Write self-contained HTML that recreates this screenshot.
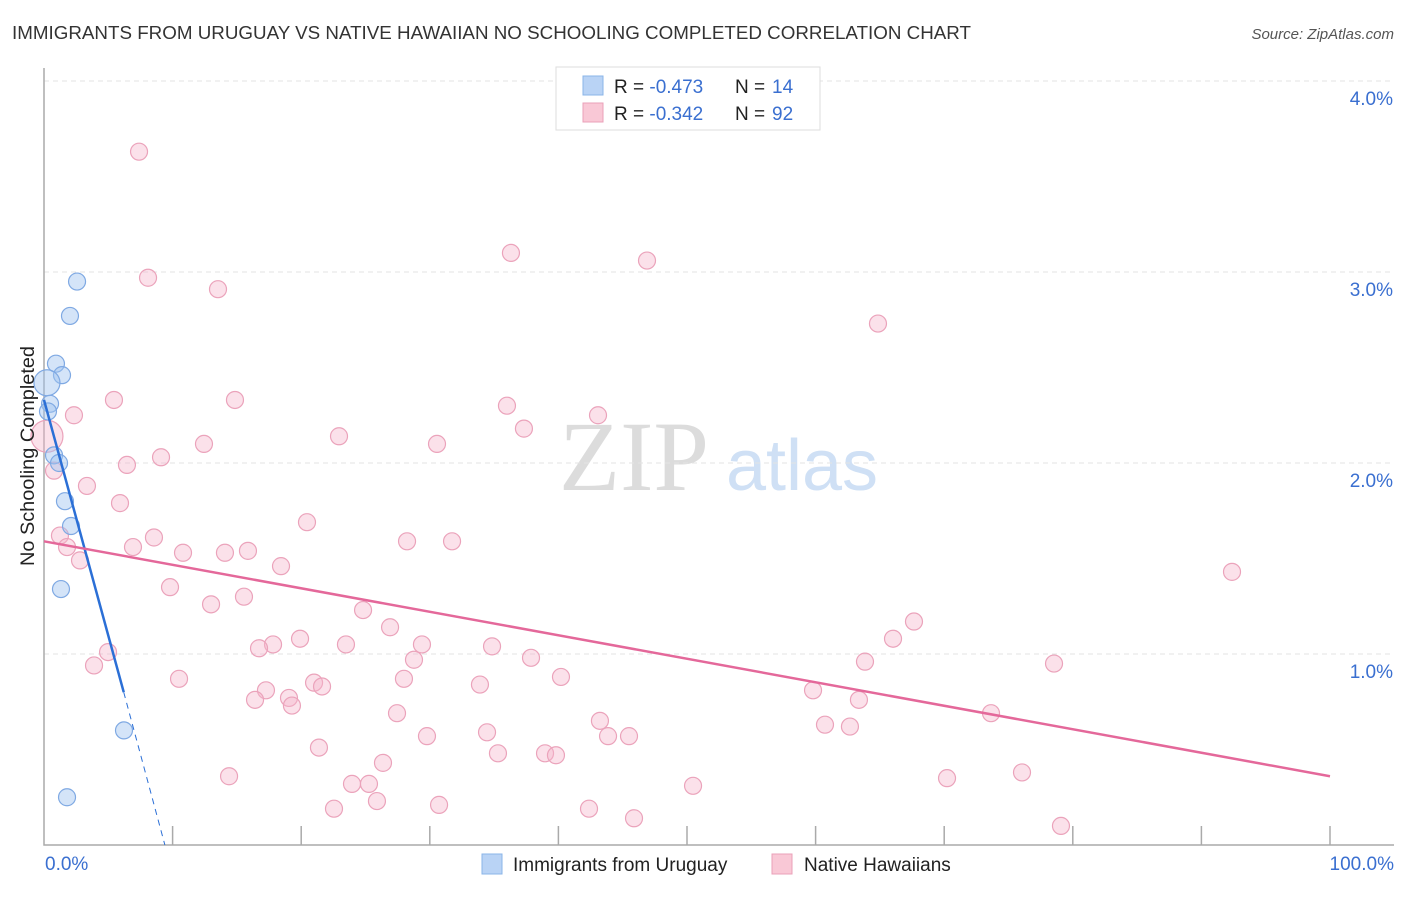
<!DOCTYPE html>
<html><head><meta charset="utf-8"><style>
body{margin:0;background:#fff;font-family:"Liberation Sans",sans-serif}
svg text{font-family:"Liberation Sans",sans-serif}
</style></head><body>
<svg id="chart" width="1406" height="892" xmlns="http://www.w3.org/2000/svg">
<text x="12" y="39" font-size="18" fill="#333" textLength="959" lengthAdjust="spacingAndGlyphs">IMMIGRANTS FROM URUGUAY VS NATIVE HAWAIIAN NO SCHOOLING COMPLETED CORRELATION CHART</text>
<text x="1394" y="39" font-size="15" fill="#555" text-anchor="end" font-style="italic">Source: ZipAtlas.com</text>
<g>
<text x="634" y="490" font-size="100" fill="#dcdcdc" text-anchor="middle" style="font-family:'Liberation Serif',serif">ZIP</text>
<text x="802" y="490" font-size="72" fill="#cfe0f5" text-anchor="middle">atlas</text>
</g>
<g id="grid"></g>
<g id="axes"></g>
<g id="pts"></g>
<g id="lines"></g>
<text transform="translate(34,456) rotate(-90)" font-size="19" fill="#222" text-anchor="middle" textLength="220" lengthAdjust="spacingAndGlyphs">No Schooling Completed</text>
<g>
<rect x="556" y="67" width="264" height="63" fill="#fff" stroke="#ddd"/>
<rect x="583" y="76" width="20" height="19" fill="#b9d3f5" stroke="#8ab4e8"/>
<rect x="583" y="103" width="20" height="19" fill="#f9c8d6" stroke="#eaa0b8"/>
<text x="614" y="93" font-size="19" fill="#222">R = <tspan fill="#3a6fd0">-0.473</tspan></text>
<text x="735" y="93" font-size="19" fill="#222">N = </text>
<text x="772" y="93" font-size="19" fill="#3a6fd0">14</text>
<text x="614" y="120" font-size="19" fill="#222">R = <tspan fill="#3a6fd0">-0.342</tspan></text>
<text x="735" y="120" font-size="19" fill="#222">N = </text>
<text x="772" y="120" font-size="19" fill="#3a6fd0">92</text>
</g>
<g>
<rect x="482" y="854" width="20" height="20" fill="#b9d3f5" stroke="#8ab4e8"/>
<text x="513" y="871" font-size="19" fill="#222">Immigrants from Uruguay</text>
<rect x="772" y="854" width="20" height="20" fill="#f9c8d6" stroke="#eaa0b8"/>
<text x="804" y="871" font-size="19" fill="#222">Native Hawaiians</text>
</g>
</svg>
<script>
const blueX=[2.57,2.02,0.93,1.40,0.23,0.47,0.31,0.78,1.17,1.63,2.10,1.32,6.22,1.79];
const blueY=[2.95,2.77,2.52,2.46,2.42,2.31,2.27,2.04,2.00,1.80,1.67,1.34,0.60,0.25];
const pinkX=[7.39,8.09,13.53,36.31,46.89,64.85,5.44,14.85,36.00,43.08,2.33,37.32,12.44,22.94,30.56,0.23,9.10,6.45,0.78,3.34,5.91,20.45,1.24,8.55,1.79,6.92,2.80,10.81,14.07,15.86,28.23,31.73,18.43,92.38,9.80,12.99,15.55,24.81,26.91,67.65,66.02,19.91,17.81,16.72,23.48,29.39,34.84,4.98,3.89,28.77,37.87,63.84,78.54,10.50,27.99,40.20,17.26,21.00,21.62,33.90,19.05,16.41,19.28,59.80,63.37,27.45,73.64,43.23,60.73,62.67,34.45,29.78,43.86,45.49,21.38,35.30,38.96,39.81,26.36,14.39,70.22,76.05,23.95,25.27,50.47,25.89,30.72,42.38,22.55,45.88,79.08];
const pinkY=[3.63,2.97,2.91,3.10,3.06,2.73,2.33,2.33,2.30,2.25,2.25,2.18,2.10,2.14,2.10,2.14,2.03,1.99,1.96,1.88,1.79,1.69,1.62,1.61,1.56,1.56,1.49,1.53,1.53,1.54,1.59,1.59,1.46,1.43,1.35,1.26,1.30,1.23,1.14,1.17,1.08,1.08,1.05,1.03,1.05,1.05,1.04,1.01,0.94,0.97,0.98,0.96,0.95,0.87,0.87,0.88,0.81,0.85,0.83,0.84,0.77,0.76,0.73,0.81,0.76,0.69,0.69,0.65,0.63,0.62,0.59,0.57,0.57,0.57,0.51,0.48,0.48,0.47,0.43,0.36,0.35,0.38,0.32,0.32,0.31,0.23,0.21,0.19,0.19,0.14,0.10];
const yTicks=[1,2,3,4];
const yTickLabels=["1.0%","2.0%","3.0%","4.0%"];
const blueTrend=[[0,2.33],[6.2,0.80],[9.4,0]];
const pinkTrend=[[0,1.59],[100,0.36]];
const NS="http://www.w3.org/2000/svg";
const sx=v=>44+v*12.86, sy=v=>845-v*191;
function mk(p,t,a){const e=document.createElementNS(NS,t);for(const k in a)e.setAttribute(k,a[k]);document.getElementById(p).appendChild(e);return e;}
yTicks.forEach((t,i)=>{
 const g=mk('grid','line',{x1:44,x2:1394,y1:sy(t),y2:sy(t),stroke:'#e3e3e3','stroke-dasharray':'5,4'});
 
 
 const l=mk('grid','text',{x:1393,y:sy(t)+24,'font-size':19,fill:'#3a6fd0','text-anchor':'end'});
 l.textContent=yTickLabels[i];
 
 
});
const ax=mk('axes','path',{d:'M44,68 V845 H1394',fill:'none',stroke:'#aaa','stroke-width':1.5});


for(let i=1;i<=10;i++){const t=mk('axes','line',{x1:sx(i*10),x2:sx(i*10),y1:826,y2:845,stroke:'#aaa','stroke-width':1.5});
 
 }
const x0=mk('axes','text',{x:45,y:870,'font-size':19,fill:'#3a6fd0'});x0.textContent='0.0%';


const x1=mk('axes','text',{x:1394,y:870,'font-size':19,fill:'#3a6fd0','text-anchor':'end'});x1.textContent='100.0%';


pinkX.forEach((x,i)=>{const big=(i===15);const c=mk('pts','circle',{cx:sx(x),cy:sy(pinkY[i]),r:big?16:8.5,fill:'rgba(246,180,202,0.4)',stroke:'#eba3bb','stroke-width':1.2});
 
 });
blueX.forEach((x,i)=>{const big=(i===4);const c=mk('pts','circle',{cx:sx(x),cy:sy(blueY[i]),r:big?13:8.5,fill:'rgba(160,196,240,0.45)',stroke:'#7fa9e3','stroke-width':1.2});
 
 });
const bl=mk('lines','line',{x1:sx(blueTrend[0][0]),y1:sy(blueTrend[0][1]),x2:sx(blueTrend[1][0]),y2:sy(blueTrend[1][1]),stroke:'#2b6fd6','stroke-width':2.5});


const bd=mk('lines','line',{x1:sx(blueTrend[1][0]),y1:sy(blueTrend[1][1]),x2:sx(blueTrend[2][0]),y2:sy(blueTrend[2][1]),stroke:'#2b6fd6','stroke-width':1,'stroke-dasharray':'6,5'});


const pl=mk('lines','line',{x1:sx(pinkTrend[0][0]),y1:sy(pinkTrend[0][1]),x2:sx(pinkTrend[1][0]),y2:sy(pinkTrend[1][1]),stroke:'#e4689a','stroke-width':2.5});


</script>
</body></html>
